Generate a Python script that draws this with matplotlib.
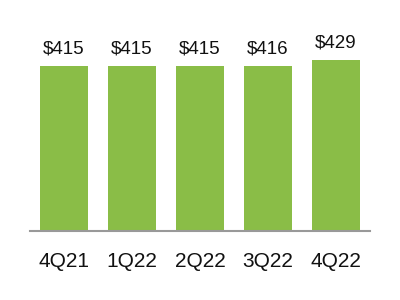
import matplotlib
matplotlib.use('Agg')
import matplotlib.pyplot as plt

quarters = ['4Q21', '1Q22', '2Q22', '3Q22', '4Q22']
values = [415, 415, 415, 416, 429]
labels = ['$415', '$415', '$415', '$416', '$429']

plt.rcParams['font.family'] = ['Liberation Sans', 'DejaVu Sans']

fig = plt.figure(figsize=(4, 3), dpi=100)
ax = fig.add_axes([0.075, 0.23, 0.85, 0.6627])

x = range(len(quarters))
ax.bar(x, values, width=0.706, color='#8abd47')

# value labels above each bar
for i, v in enumerate(values):
    ax.annotate(labels[i], (i, v), xytext=(0, 9), textcoords='offset points',
                ha='center', va='baseline', fontsize=13.5, color='#111111')

ax.set_xlim(-0.5, 4.5)
ax.set_ylim(0, 500)
ax.set_xticks(list(x))
ax.set_xticklabels(quarters, fontsize=15, color='#111111')
ax.tick_params(axis='x', length=0, pad=15)
ax.set_yticks([])

for side in ['top', 'right', 'left']:
    ax.spines[side].set_visible(False)
ax.spines['bottom'].set_color('#999999')
ax.spines['bottom'].set_linewidth(1.5)

fig.savefig('out.png', dpi=100)
